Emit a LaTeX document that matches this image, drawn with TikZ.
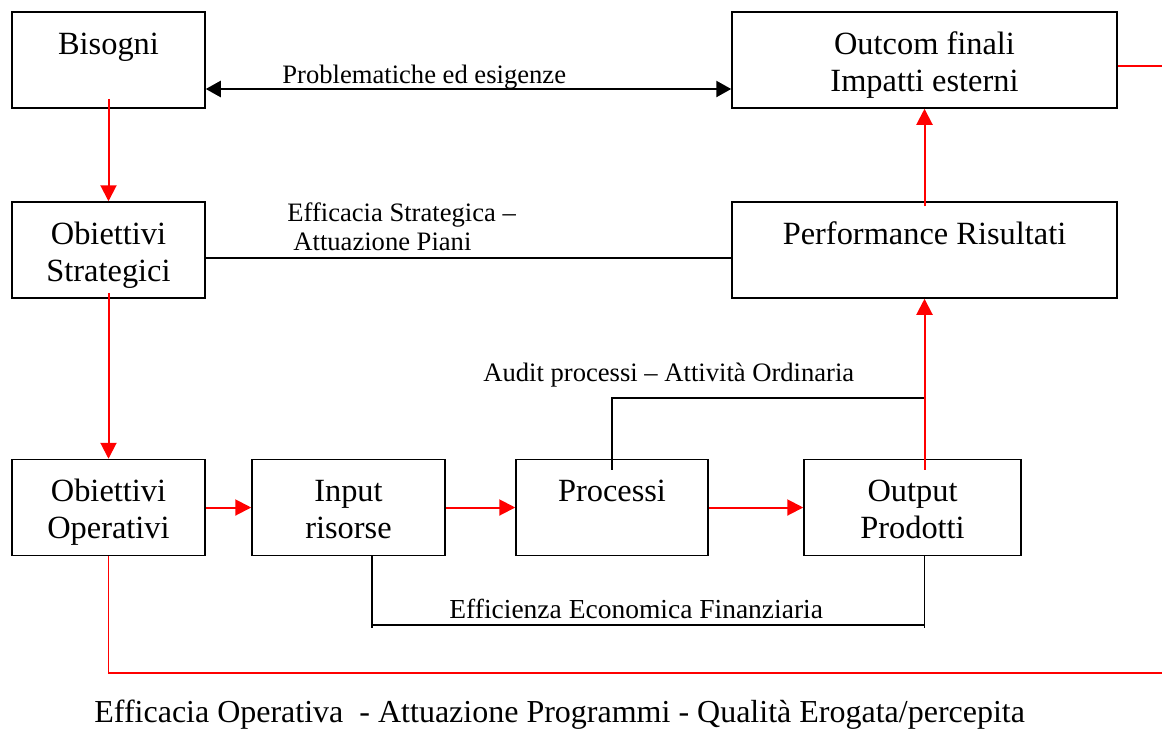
\documentclass[tikz,border=0pt]{standalone}
\usepackage{fontspec}
\setmainfont{Liberation Serif}
\usetikzlibrary{arrows.meta,positioning,calc}
\newcommand{\toprule}{\rule{0pt}{16pt}}

\begin{document}
\begin{tikzpicture}[x=0.5pt,y=-0.5pt,
    blk/.style={draw, line width=0.75pt, minimum height=48pt, inner sep=0pt, align=center,
        font=\fontsize{16.2}{18.5}\selectfont},
    lbl/.style={inner sep=0pt, font=\fontsize{13.3}{14.5}\selectfont},
    redarr/.style={red, line width=1pt, -{Triangle[length=8pt,width=8pt]}},
    redline/.style={red, line width=0.7pt},
    conn/.style={line width=0.6pt}]
    \useasboundingbox (0,0) rectangle (1162,729);

    % Boxes
    \node[blk, minimum width=96.5pt] (bis) at (108.5,60) {\toprule Bisogni\\\vphantom{g}};
    \node[blk, minimum width=192.5pt] (out) at (924.5,60) {\toprule Outcom finali\\Impatti esterni};
    \node[blk, minimum width=96.5pt] (strat) at (108.5,250) {\toprule Obiettivi\\Strategici};
    \node[blk, minimum width=192.5pt] (perf) at (924.5,250) {\toprule Performance Risultati\\\vphantom{g}};
    \node[blk, minimum width=96.5pt] (oper) at (108.5,507.5) {\toprule Obiettivi\\Operativi};
    \node[blk, minimum width=96.5pt] (inp) at (348.5,507.5) {\toprule Input\\risorse\vphantom{g}};
    \node[blk, minimum width=96pt] (proc) at (612,507.5) {\toprule Processi\\\vphantom{g}};
    \node[blk, minimum width=108.5pt] (outp) at (912.5,507.5) {\toprule Output\\Prodotti\vphantom{g}};

    % Labels
    \node[lbl, anchor=base west] (prob) at (282,83) {Problematiche ed esigenze};
    \node[lbl, anchor=north west, align=left] (effstr) at (287,202) {Efficacia Strategica --\\\hspace{3pt}Attuazione Piani};
    \node[lbl, anchor=base west] (audit) at (483,381) {Audit processi -- Attività Ordinaria};
    \node[lbl, anchor=base west, font=\fontsize{13.75}{16}\selectfont] (effec) at (449,618) {Efficienza Economica Finanziaria};
    \node[inner sep=0pt, anchor=base west, font=\fontsize{16}{18}\selectfont] (effop) at (94,722) {Efficacia Operativa\ \ - Attuazione Programmi - Qualità Erogata/percepita};

    % Black links
    \draw[line width=1.2pt, {Triangle[length=7.5pt,width=8pt]}-{Triangle[length=7.5pt,width=8pt]}] (bis.east |- 0,89) -- (out.west |- 0,89);
    \draw[conn] (strat.east |- 0,258) -- (perf.west |- 0,258);
    \coordinate (auditR) at (924.5,398);
    \draw[conn] ([yshift=-5.5pt]proc.north) |- (auditR);
    \coordinate (effL) at (372,625);
    \coordinate (effR) at (924.5,625);
    \draw[conn] (effL |- inp.south) -- ([yshift=-1.5pt]effL);
    \draw[conn] (effL) -- (effR);
    \draw[conn] (effR |- outp.south) -- ([yshift=-1.5pt]effR);

    % Red links
    \draw[redarr] ([yshift=5pt]bis.south) -- (strat.north);
    \draw[redarr] ([yshift=3pt]strat.south) -- (oper.north);
    \draw[redarr] ([yshift=-2.5pt]perf.north) -- (out.south);
    \draw[redarr] ([yshift=-5.5pt]outp.north -| perf.south) -- (perf.south);
    \draw[redarr] (oper) -- (inp);
    \draw[redarr] (inp) -- (proc);
    \draw[redarr] (proc) -- (outp);
    \coordinate (opR) at (1162,673);
    \draw[redline] (oper.south) |- (opR);
    \coordinate (outR) at (1162,66);
    \draw[redline] (out.east |- outR) -- (outR);
\end{tikzpicture}
\end{document}
